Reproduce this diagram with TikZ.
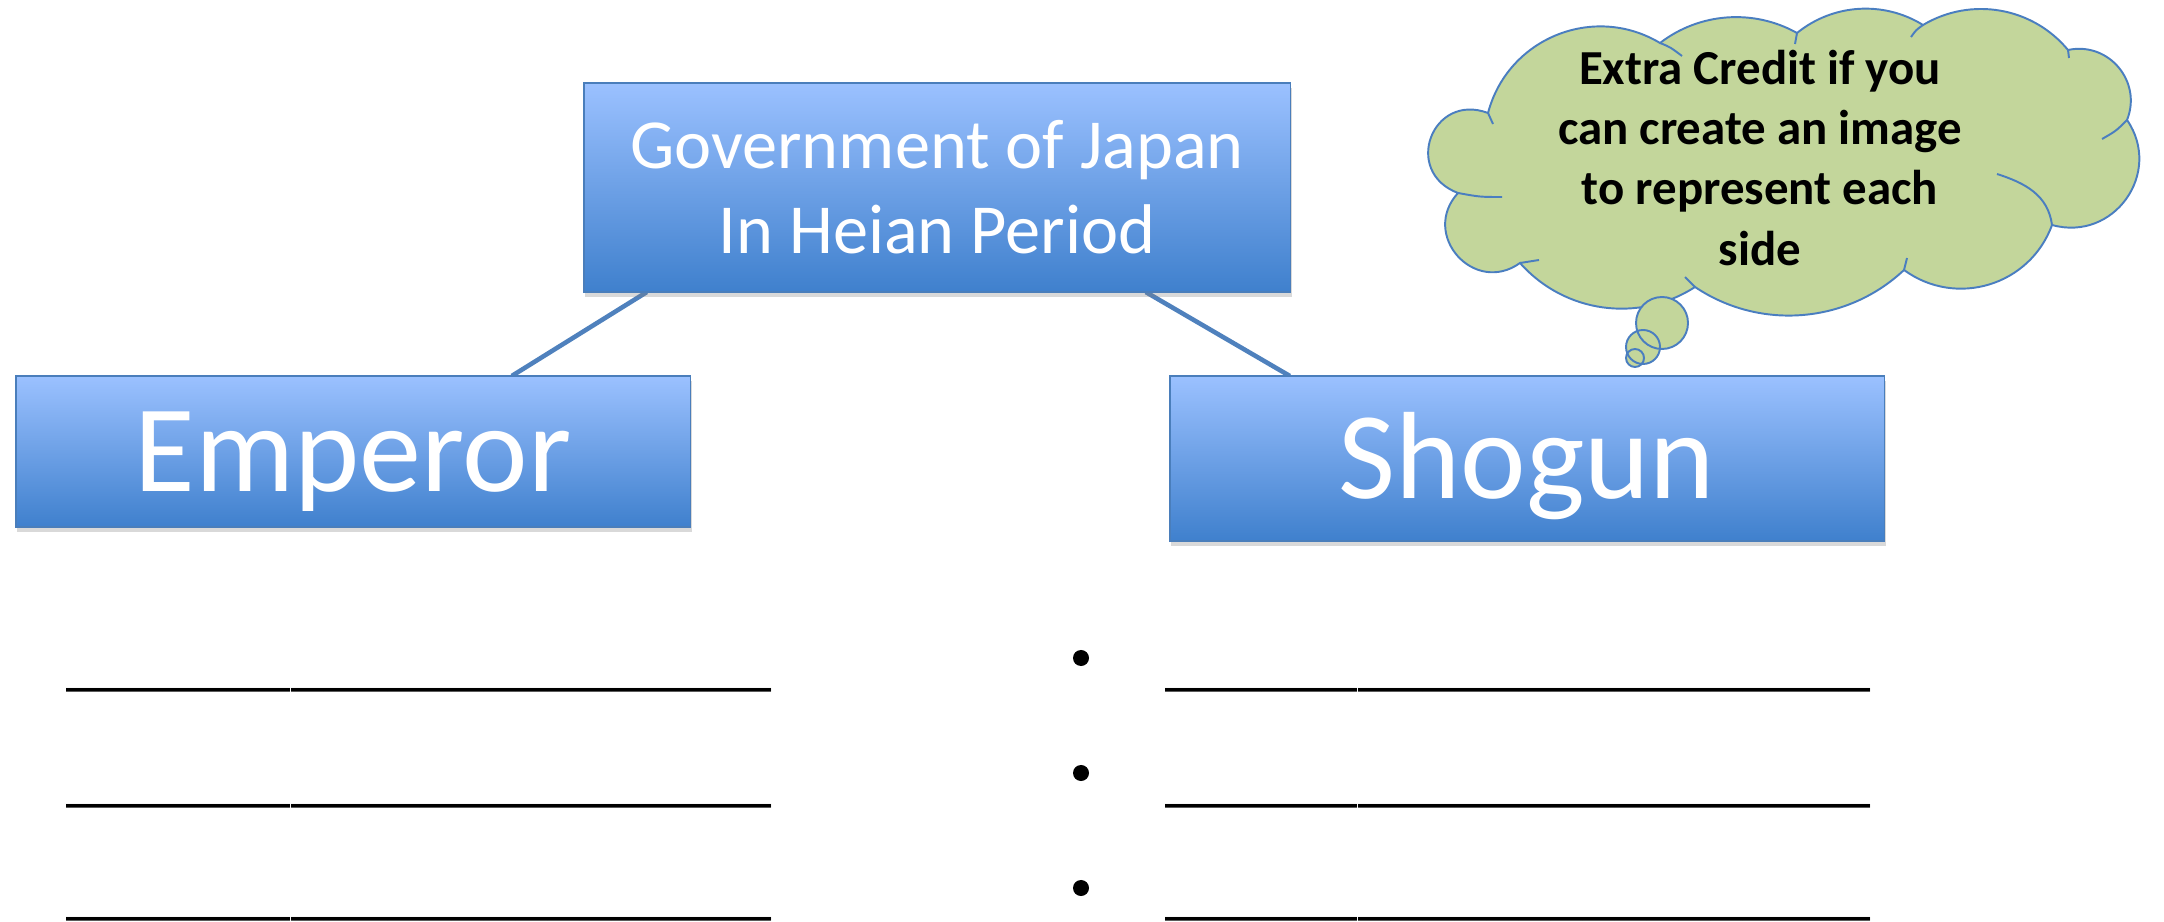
\documentclass[tikz,border=0pt]{standalone}
\usepackage{fontspec}
\setmainfont{Carlito}
\usetikzlibrary{calc,shadows}
\definecolor{boxtop}{RGB}{155,193,255}
\definecolor{boxbot}{RGB}{63,128,205}
\definecolor{boxline}{RGB}{74,126,187}
\definecolor{linkblue}{RGB}{79,129,189}
\definecolor{cloudfill}{RGB}{195,214,155}
\definecolor{cloudblue}{RGB}{74,126,192}
\pgfdeclarelayer{bg}
\pgfsetlayers{bg,main}
% one puff of the cloud: from #1 to #4, a = #2, b = #3
\newcommand\cloudpuff[4]{.. controls ($(#1)!#2!(#4)+(#1)!#3!90:(#4)-(#1)$) and ($(#4)!#2!(#1)+(#4)!#3!-90:(#1)-(#4)$) .. (#4)}
\begin{document}
\begin{tikzpicture}[x=0.01cm,y=-0.01cm,
  box/.style={draw=boxline, line width=0.4pt, top color=boxtop, bottom color=boxbot,
    inner sep=0pt, outer sep=0pt, text=white,
    drop shadow={opacity=0.3, shadow xshift=0.4pt, shadow yshift=-1.3pt}},
  bigtext/.style={font=\fontsize{35.3}{40}\selectfont, text height=22.7pt, text depth=0pt},
  link/.style={draw=linkblue, line width=1.3pt},
  cloudline/.style={draw=cloudblue, line width=0.55pt},
  blank/.style={anchor=base west, inner sep=0pt, font=\fontsize{18.3}{22}\selectfont},
  dot/.style={circle, fill=black, inner sep=0pt, minimum size=0.16cm},
  bubble/.style={circle, fill=cloudfill, inner sep=0pt}
]
\useasboundingbox (0,0) rectangle (2164,922);

% boxes
\node[box, minimum width=7.06cm, minimum height=2.09cm, align=center,
  font=\fontsize{20}{24.2}\selectfont] (top) at (937,187.5) {Government of Japan\\In Heian Period};
\node[box, bigtext, minimum width=6.74cm, minimum height=1.51cm] (emp) at (353,451.5) {Emperor};
\node[box, bigtext, minimum width=7.14cm, minimum height=1.65cm] (sho) at (1527,458.5) {Shogun};

% connectors
\begin{pgfonlayer}{bg}
\draw[link] ($(top.south west)+(63,0)$) -- ($(emp.north west)+(496,0)$);
\draw[link] ($(top.south west)+(562,0)$) -- ($(sho.north west)+(120,0)$);
\end{pgfonlayer}

% cloud
\coordinate (cB) at (1488,113);
\coordinate (cA) at (1660,43);
\coordinate (cF) at (1797,33);
\coordinate (cG) at (1923,25);
\coordinate (cH) at (2068,50);
\coordinate (cI) at (2127,120);
\coordinate (cJ) at (2052,225);
\coordinate (cK) at (1904,270);
\coordinate (cE) at (1695,287);
\coordinate (cD) at (1520,263);
\coordinate (cC) at (1458,193);
\path[cloudline, fill=cloudfill] (cB)
  \cloudpuff{cB}{0.25}{0.333}{cA}
  \cloudpuff{cA}{0.303}{0.2}{cF}
  \cloudpuff{cF}{0.299}{0.213}{cG}
  \cloudpuff{cG}{0.288}{0.247}{cH}
  \cloudpuff{cH}{0.213}{0.4}{cI}
  \cloudpuff{cI}{0.17}{0.467}{cJ}
  \cloudpuff{cJ}{0.25}{0.333}{cK}
  \cloudpuff{cK}{0.2925}{0.233}{cE}
  \cloudpuff{cE}{0.288}{0.247}{cD}
  \cloudpuff{cD}{0.063}{0.6}{cC}
  \cloudpuff{cC}{0}{0.7}{cB} -- cycle;
% inner arcs of the cloud
\draw[cloudline] (cB) .. controls (1490,118) .. (1493,124);
\draw[cloudline] (cA) .. controls (1670,47) .. (1682,56);
\draw[cloudline] (cF) .. controls (1796,38) .. (1795,44);
\draw[cloudline] (cG) .. controls (1916,30) .. (1911,37);
\draw[cloudline] (cH) .. controls (2069,54) .. (2069,58);
\draw[cloudline] (cI) .. controls (2116,131) .. (2102,139);
\draw[cloudline] (cJ) .. controls (2048,195) and (2025,183) .. (1997,174);
\draw[cloudline] (cK) .. controls (1906,264) .. (1907,258);
\draw[cloudline] (cE) .. controls (1690,282) .. (1685,277);
\draw[cloudline] (cD) .. controls (1530,262) .. (1539,260);
\draw[cloudline] (cC) .. controls (1480,197) .. (1502,197);

\node[align=center, inner sep=0pt, font=\fontsize{13.9}{17.07}\selectfont\bfseries] (note) at (1760,158)
  {Extra Credit if you\\can create an image\\to represent each\\side};

% thought bubbles
\node[bubble, minimum size=0.52cm] (bu1) at (1662,323) {};
\node[bubble, minimum size=0.34cm] (bu2) at (1643,347) {};
\node[bubble, minimum size=0.18cm] (bu3) at (1635,358) {};
\draw[cloudline] (bu1) circle[radius=26];
\draw[cloudline] (bu2) circle[radius=17];
\draw[cloudline] (bu3) circle[radius=9];

% bullets
\node[dot] (d1) at (1081,658) {};
\node[dot] (d2) at (1081,773) {};
\node[dot] (d3) at (1081,888) {};

% blank lines
\newcommand\blankrule{\textunderscore\textunderscore\textunderscore\textunderscore\textunderscore\textunderscore\textunderscore\textunderscore\textunderscore\textunderscore\textunderscore\textunderscore\textunderscore\textunderscore\textunderscore\textunderscore\textunderscore\textunderscore\textunderscore\textunderscore\textunderscore\textunderscore}
\node[blank] (l1) at (66,683) {\blankrule};
\node[blank] (l2) at (66,799) {\blankrule};
\node[blank] (l3) at (66,912) {\blankrule};
\node[blank] (r1) at (1165,683) {\blankrule};
\node[blank] (r2) at (1165,799) {\blankrule};
\node[blank] (r3) at (1165,912) {\blankrule};
\end{tikzpicture}
\end{document}
